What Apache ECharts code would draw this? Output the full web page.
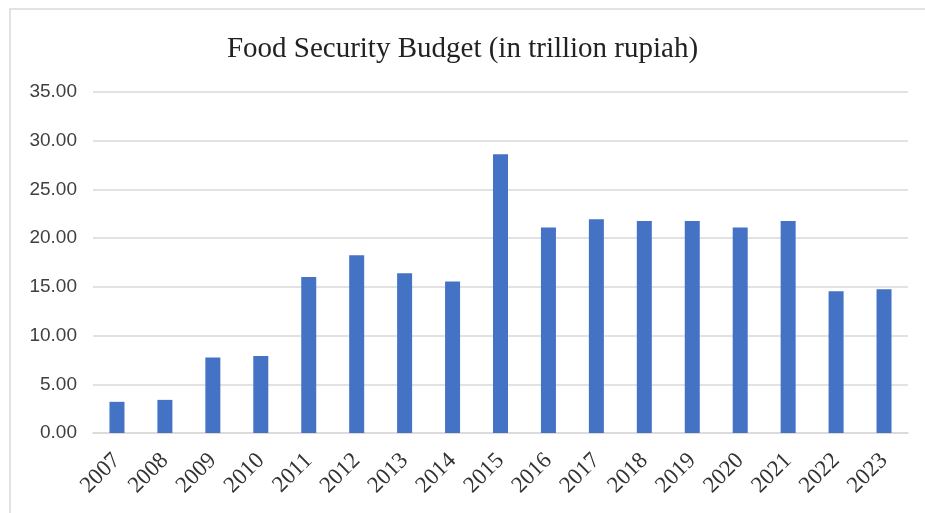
<!DOCTYPE html>
<html>
<head>
<meta charset="utf-8">
<script src="https://cdn.jsdelivr.net/npm/echarts@6/dist/echarts.min.js"></script>
<style>
  html, body { margin: 0; padding: 0; background: #fff; }
  #chart { width: 925px; height: 513px; }
</style>
</head>
<body>
<div id="chart"></div>
<script>
const years = ['2007', '2008', '2009', '2010', '2011', '2012', '2013', '2014', '2015',
  '2016', '2017', '2018', '2019', '2020', '2021', '2022', '2023'];
const budget = [3.2, 3.4, 7.75, 7.9, 16.0, 18.25, 16.4, 15.55, 28.6,
  21.1, 21.95, 21.75, 21.75, 21.1, 21.75, 14.55, 14.75];
const yTicks = [0, 5, 10, 15, 20, 25, 30, 35];

const chart = echarts.init(document.getElementById('chart'));

chart.setOption({
  animation: false,
  backgroundColor: '#fff',
  title: {
    text: 'Food Security Budget (in trillion rupiah)',
    left: 'center',
    top: 30,
    textStyle: {
      fontFamily: 'Liberation Serif',
      fontSize: 29,
      fontWeight: 'normal',
      color: '#222'
    }
  },
  graphic: [{
    type: 'rect',
    shape: { x: 10, y: 9, width: 1000, height: 600 },
    style: { fill: 'none', stroke: '#d9d9d9', lineWidth: 1.5 },
    silent: true
  }],
  grid: {
    left: 93,
    right: 17,
    top: 92,
    bottom: 80
  },
  xAxis: {
    type: 'category',
    data: years,
    axisLine: { lineStyle: { color: '#d9d9d9', width: 1.5 } },
    axisTick: { show: false },
    axisLabel: {
      rotate: 45,
      margin: 24,
      interval: 0,
      fontFamily: 'Liberation Serif',
      fontSize: 23,
      color: '#333'
    }
  },
  yAxis: {
    type: 'value',
    min: yTicks[0],
    max: yTicks[yTicks.length - 1],
    interval: 5,
    axisLine: { show: false },
    axisTick: { show: false },
    axisLabel: {
      margin: 16,
      fontFamily: 'Liberation Sans',
      fontSize: 19,
      color: '#404040',
      formatter: v => v.toFixed(2)
    },
    splitLine: { lineStyle: { color: '#d9d9d9', width: 1.5 } }
  },
  series: [{
    type: 'bar',
    data: budget,
    barWidth: 15,
    itemStyle: { color: '#4472c4' }
  }]
});
</script>
</body>
</html>
